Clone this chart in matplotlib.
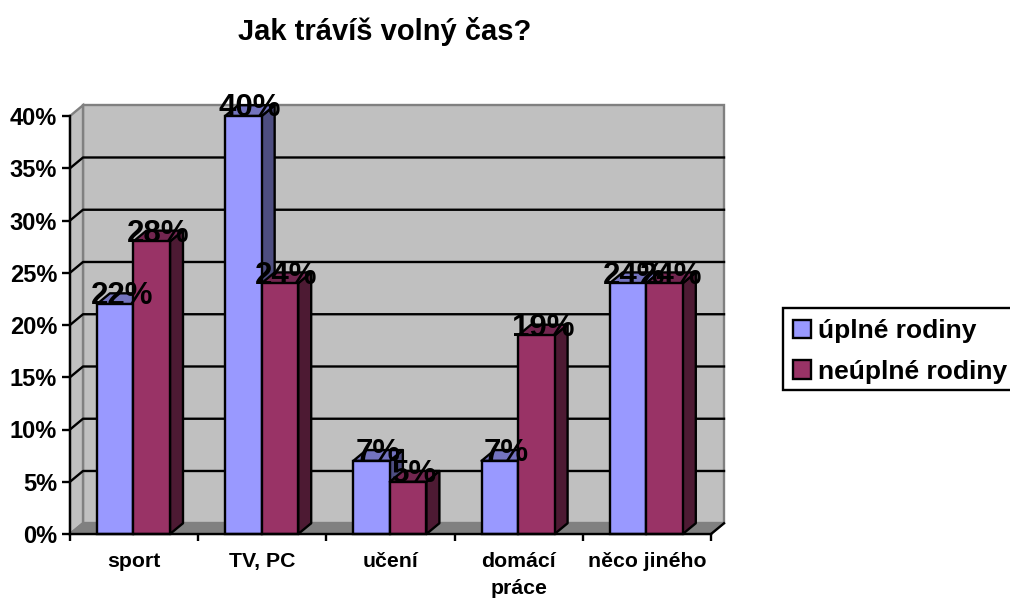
import matplotlib
matplotlib.use("Agg")
import matplotlib.pyplot as plt
from matplotlib.patches import Patch, Rectangle
import numpy as np

categories = ["sport", "TV, PC", "učení", "domácí\npráce", "něco jiného"]
uplne = [0.22, 0.40, 0.07, 0.07, 0.24]
neuplne = [0.28, 0.24, 0.05, 0.19, 0.24]
series_names = ["úplné rodiny", "neúplné rodiny"]
y_ticks = [0.0, 0.05, 0.10, 0.15, 0.20, 0.25, 0.30, 0.35, 0.40]
y_labels = ["0%", "5%", "10%", "15%", "20%", "25%", "30%", "35%", "40%"]

# depth of the fake 3d box, in data units
DX = 13 / 128.2
DY = 0.0103
BAR_W = 0.285
LW = 1.7

FRONT = ["#9999FF", "#993366"]
TOP = ["#7373BF", "#732650"]
SIDE = ["#4D4D80", "#4D1A33"]

plt.rcParams["font.family"] = ["Liberation Sans", "DejaVu Sans"]
plt.rcParams["font.weight"] = "bold"

fig = plt.figure(figsize=(10.10, 5.99), dpi=100)
ax = fig.add_axes([70 / 1010, 65 / 599, 641 / 1010, 418 / 599])
ax.set_xlim(0, 5)
ax.set_ylim(0, 0.40)
ax.patch.set_visible(False)

n = len(categories)
top = y_ticks[-1]

# walls and floor
ax.fill([DX, n + DX, n + DX, DX], [DY, DY, top + DY, top + DY],
        fc="#C0C0C0", ec="#808080", lw=LW, zorder=1, clip_on=False)
ax.fill([0, DX, DX, 0], [0, DY, top + DY, top], fc="#C0C0C0", ec="#808080",
        lw=LW, zorder=1, clip_on=False)
ax.fill([0, n, n + DX, DX], [0, 0, DY, DY], fc="#808080", ec="#808080",
        lw=LW, zorder=1, clip_on=False)
ax.plot([n, n + DX], [0, DY], color="black", lw=LW, zorder=2, clip_on=False)

# gridlines go along the left wall and then the back wall
for v in y_ticks[1:-1]:
    ax.plot([0, DX, n + DX], [v, v + DY, v + DY], color="black", lw=LW,
            zorder=2, clip_on=False)


def draw_box(x, v, i, z):
    ax.bar(x, v, width=BAR_W, align="edge", color=FRONT[i], edgecolor="black",
           lw=LW, zorder=z + 0.2, clip_on=False)
    ax.fill([x + BAR_W, x + BAR_W + DX, x + BAR_W + DX, x + BAR_W],
            [0, DY, v + DY, v], fc=SIDE[i], ec="black", lw=LW, zorder=z,
            clip_on=False, joinstyle="round")
    ax.fill([x, x + BAR_W, x + BAR_W + DX, x + DX],
            [v, v, v + DY, v + DY], fc=TOP[i], ec="black", lw=LW, zorder=z,
            clip_on=False, joinstyle="round")


pos = np.arange(n)
for k in pos:
    left = k + 0.21
    draw_box(left, uplne[k], 0, 3 + k)
    draw_box(left + BAR_W, neuplne[k], 1, 3.5 + k)

# data labels sit over the bar tops
for k in pos:
    for j, vals in enumerate([uplne, neuplne]):
        x = k + 0.21 + BAR_W * j + BAR_W / 2 + DX / 2
        ax.text(x, vals[k] + DY - 0.003, f"{vals[k] * 100:.0f}%", fontsize=22.5,
                ha="center", va="center", color="black", zorder=20, clip_on=False)

for s in ["top", "right"]:
    ax.spines[s].set_visible(False)
for s in ["left", "bottom"]:
    ax.spines[s].set_linewidth(LW)
    ax.spines[s].set_zorder(15)

ax.set_yticks(y_ticks, y_labels, fontsize=17)
ax.tick_params(axis="y", length=5.8, width=LW, pad=3.5)
ax.set_xticks(np.arange(n + 1), [""] * (n + 1))
ax.tick_params(axis="x", which="major", length=5, width=LW)
ax.set_xticks(pos + 0.5, categories, minor=True, fontsize=15.3, linespacing=1.55)
ax.tick_params(axis="x", which="minor", length=0, pad=13)

fig.text(385 / 1010, 1 - 32 / 599, "Jak trávíš volný čas?", fontsize=21,
         ha="center", va="center")

# legend frame runs off the right edge of the picture
fig.add_artist(Rectangle((783 / 1010, 1 - 390 / 599), 240 / 1010, 82 / 599, fc="white",
                         ec="black", lw=LW, transform=fig.transFigure))
handles = [Patch(fc=FRONT[0], ec="black", lw=LW), Patch(fc=FRONT[1], ec="black", lw=LW)]
leg = fig.legend(handles, series_names, loc="upper left",
                 bbox_to_anchor=(781.5 / 1010, 1 - 308 / 599), borderaxespad=0,
                 fontsize=19, frameon=False, handlelength=0.68, handleheight=0.68,
                 handletextpad=0.27, labelspacing=0.63, borderpad=0.42)

fig.savefig("out.png", dpi=100)
